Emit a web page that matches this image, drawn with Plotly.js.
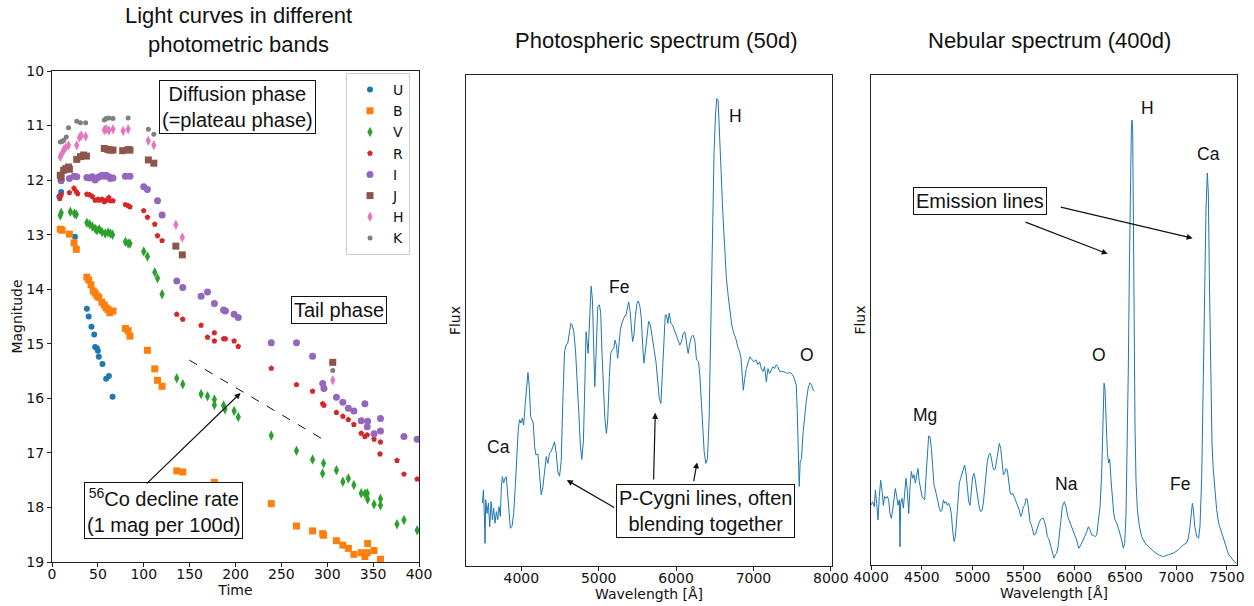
<!DOCTYPE html>
<html>
<head>
<meta charset="utf-8">
<script src="https://cdn.plot.ly/plotly-3.0.1.min.js"></script>
<style>html,body{margin:0;padding:0;background:#fff;}#chart{width:1254px;height:606px;}</style>
</head>
<body>
<div id="chart"></div>
<script>
// ---------- Light curves (time in days, magnitude) ----------
const bandNames = ['U','B','V','R','I','J','H','K'];
const U_t = [8,10,25,38,40,43,46,47,49,50,51,55,59,62,66];
const U_m = [12.3,12.22,13.04,14.36,14.5,14.69,14.83,15.06,15.08,15.13,15.24,15.37,15.64,15.59,15.97];
const B_t = [9,11,19,24,26.5,38,40,42.5,45,47,49,51,54.5,57,59,61,63,66.5,80,83,85,104,112,115,120,136,142.5,177,239,266.5,284,295,296,310,317,323,329,337,341,343.6,344,351,358];
const B_m = [12.9,12.92,12.99,13.15,13.27,13.78,13.83,13.92,14.03,14.07,14.12,14.15,14.24,14.29,14.34,14.37,14.43,14.4,14.72,14.76,14.86,15.12,15.46,15.67,15.78,17.33,17.35,17.54,17.93,18.34,18.43,18.48,18.51,18.61,18.69,18.75,18.86,18.83,18.9,18.83,18.66,18.79,18.95];
const V_t = [9,10,20,24.4,26.5,38,41,44,47,49,51.6,54.5,58,61,63.6,66,80,83,85,100,104,112,115,120,136,142.5,162.5,169.5,177,177,187,188.5,198.5,203,239,266.5,284,296,295,310,317,323,329,337,341,343.6,344,351,358,358,376,383.6,398];
const V_m = [12.65,12.6,12.58,12.61,12.63,12.78,12.81,12.85,12.89,12.92,12.9,12.95,12.98,12.96,12.98,13.0,13.13,13.16,13.16,13.31,13.4,13.69,13.8,14.09,15.63,15.74,15.92,15.96,16.02,16.12,16.13,16.2,16.23,16.34,16.68,16.96,17.12,17.19,17.38,17.32,17.53,17.47,17.59,17.74,17.75,17.74,17.85,17.94,17.84,17.96,18.31,18.23,18.42];
const R_t = [8.4,10,19,24,26.5,28,38,41,44,47,50,51.6,54.5,57,59,62,63.6,66.5,80,83,85,100,104,112,115,120,136,142.5,162.5,169.5,177,177,187,189,198.5,203,239,266.5,284,295,296.4,310,317,323,329,337,341,343.6,351,358,357.5,376,383.6,398];
const R_m = [12.34,12.27,12.23,12.15,12.21,12.25,12.26,12.27,12.3,12.37,12.35,12.37,12.35,12.4,12.37,12.32,12.38,12.38,12.45,12.47,12.49,12.56,12.68,12.81,13.02,13.11,14.46,14.55,14.66,14.88,14.8,14.95,14.91,14.91,14.95,15.05,15.45,15.75,15.87,16.1,16.13,16.26,16.33,16.39,16.48,16.64,16.7,16.67,16.75,16.8,17.02,17.14,17.39,17.48];
const I_t = [10,19,24,27,38,41,44,47,50,51.6,54.5,57,59,62,63.6,66.5,80,85,100,104,115,120,136,142.5,162.5,169.5,177,187,189,198.5,203,239,266.5,284,295,296.4,310,317,323,329,337,341,343.6,344,351,358,358,383.6,398];
const I_m = [12.01,11.97,11.93,11.94,11.95,11.96,11.94,12.0,11.95,11.94,11.91,11.93,11.91,11.94,11.97,11.96,11.93,11.93,12.12,12.17,12.38,12.64,13.85,13.97,14.13,14.05,14.26,14.38,14.4,14.46,14.52,14.98,14.98,15.23,15.73,15.82,15.98,16.07,16.18,16.23,16.41,16.1,16.52,16.42,16.65,16.37,16.6,16.7,16.75];
const J_t = [9,10,12.7,15,18,19,27,31,34.5,37.5,57,61,63.6,66.5,77,83,85,105,111,135,142,306];
const J_m = [11.91,11.95,11.82,11.79,11.76,11.8,11.62,11.57,11.54,11.56,11.42,11.44,11.45,11.45,11.46,11.44,11.45,11.63,11.69,13.21,13.37,15.34];
const H_t = [9,11,12.7,15,18,27,30,32,36.7,57,59,62,66.5,77.5,83,105,111,135,142,306];
const H_m = [11.57,11.51,11.45,11.4,11.36,11.36,11.22,11.18,11.2,11.08,11.07,11.09,11.07,11.1,11.07,11.28,11.36,12.82,13.05,15.67];
const K_t = [9,11,12.7,15.6,18,27,31,36.7,57,59,62,66.5,83,105,111,306];
const K_m = [11.3,11.29,11.27,11.21,11.04,10.92,10.95,10.95,10.9,10.87,10.86,10.87,10.86,11.07,11.16,15.49];

// ---------- Photospheric spectrum (50d): wavelength [A], relative flux ----------
const photo_wl = [3497,3510,3523,3531,3540,3557,3574,3592,3609,3626,3643,3660,3678,3695,3712,3729,3742,3755,3772,3789,3806,3819,3836,3858,3879,3901,3922,3944,3961,3978,3995,4013,4030,4051,4068,4086,4103,4120,4137,4154,4172,4189,4215,4236,4257,4279,4300,4322,4343,4365,4386,4408,4429,4451,4472,4494,4515,4537,4558,4580,4601,4623,4640,4657,4678,4700,4721,4743,4764,4782,4803,4820,4837,4863,4880,4902,4919,4936,4949,4966,4988,5009,5026,5043,5061,5078,5099,5116,5138,5155,5172,5194,5211,5228,5245,5262,5280,5297,5318,5336,5353,5370,5387,5404,5421,5438,5456,5473,5495,5512,5533,5551,5568,5585,5602,5624,5645,5667,5688,5714,5740,5761,5783,5804,5821,5843,5860,5877,5894,5911,5933,5954,5976,5997,6023,6049,6070,6092,6113,6135,6156,6178,6199,6221,6242,6264,6290,6307,6324,6341,6363,6384,6406,6427,6449,6470,6491,6509,6526,6543,6560,6582,6603,6625,6650,6672,6698,6719,6745,6771,6796,6822,6839,6857,6869,6887,6908,6934,6955,6981,7007,7033,7059,7080,7101,7123,7144,7166,7187,7209,7230,7252,7273,7295,7316,7338,7363,7389,7415,7441,7467,7492,7518,7540,7553,7566,7578,7591,7604,7621,7639,7660,7682,7707,7729,7750,7772,7789];
const photo_fx = [12.8,15.5,10.1,4.6,13.5,10.7,12.8,8.0,13.1,9.4,11.8,8.7,11.1,9.4,12.1,10.1,16.2,18.2,16.9,17.9,18.2,15.5,12.8,7.7,8.0,10.7,16.2,23.6,28.0,29.8,29.1,30.1,28.7,33.1,36.5,39.4,36.5,30.4,29.8,29.1,24.3,22.6,22.8,18.9,14.5,16.2,19.2,22.3,20.9,23.0,23.3,24.3,25.3,23.0,19.2,18.3,21.3,33.8,43.7,45.0,45.4,47.7,49.4,49.1,47.7,44.0,38.6,31.1,24.3,21.7,25.7,36.5,47.7,43.3,50.1,57.0,54.2,43.3,36.5,43.3,52.8,53.2,51.5,43.3,36.5,30.4,27.0,29.7,38.6,43.3,44.0,44.3,46.0,45.0,42.3,46.0,48.1,49.4,50.4,50.9,51.1,52.8,53.8,52.1,49.4,45.7,47.1,50.8,53.5,54.0,52.8,50.4,45.0,41.3,43.6,47.4,49.8,49.1,46.4,44.3,41.6,38.2,34.1,33.1,38.2,47.0,51.1,51.1,49.4,51.5,49.4,49.1,48.1,47.4,46.4,45.0,45.7,47.4,47.7,45.7,43.3,45.4,46.7,47.0,46.0,42.0,41.6,38.9,33.5,28.0,23.3,20.9,21.9,30.1,50.4,70.8,84.4,91.9,95.2,94.9,89.8,80.3,72.2,65.4,58.6,55.2,51.8,49.1,47.4,46.4,44.7,43.6,42.3,38.2,35.8,38.2,40.2,41.6,42.6,42.0,41.6,42.0,41.0,41.6,40.2,39.6,40.6,37.5,40.2,39.2,39.9,40.6,40.2,41.0,40.6,39.6,39.7,39.6,39.4,39.2,39.4,39.2,38.6,37.5,36.9,31.4,23.3,16.2,21.2,21.9,26.7,30.7,33.5,36.2,37.3,36.9,35.8,35.6];

// ---------- Nebular spectrum (400d) ----------
const neb_wl = [4000,4016,4033,4043,4056,4069,4082,4095,4108,4121,4134,4148,4161,4174,4187,4200,4213,4226,4239,4253,4266,4279,4285,4292,4305,4318,4331,4344,4357,4371,4384,4397,4410,4423,4436,4449,4462,4475,4489,4502,4515,4528,4541,4554,4567,4580,4594,4607,4620,4633,4646,4659,4672,4685,4698,4712,4725,4738,4751,4764,4777,4790,4803,4817,4830,4843,4856,4869,4882,4895,4908,4921,4935,4948,4961,4974,4987,5000,5013,5026,5039,5053,5066,5079,5092,5105,5118,5131,5144,5158,5171,5184,5197,5210,5223,5236,5249,5262,5276,5289,5302,5315,5328,5341,5354,5367,5380,5394,5407,5420,5433,5446,5459,5472,5485,5499,5512,5525,5538,5551,5564,5577,5590,5603,5617,5630,5643,5656,5669,5682,5695,5708,5722,5735,5748,5761,5774,5787,5800,5813,5826,5840,5853,5866,5882,5902,5918,5935,5958,5981,6004,6023,6043,6063,6082,6102,6122,6138,6154,6171,6187,6204,6220,6236,6253,6269,6282,6292,6302,6312,6325,6338,6348,6361,6374,6387,6400,6417,6433,6449,6466,6482,6495,6508,6521,6531,6541,6551,6561,6567,6574,6580,6587,6597,6607,6620,6640,6662,6695,6728,6777,6826,6875,6925,6974,7023,7072,7105,7121,7138,7151,7161,7171,7184,7204,7223,7236,7253,7269,7282,7295,7308,7318,7328,7341,7354,7367,7384,7400,7420,7439,7459,7479,7499,7518,7538,7558,7577,7590];
const neb_fx = [12.2,12.9,11.9,15.3,12.6,9.2,14.0,17.3,15.3,12.2,14.0,13.6,14.0,13.3,10.5,9.5,11.2,14.0,15.6,14.0,12.2,13.3,3.7,12.6,13.6,11.6,14.6,17.7,15.3,10.5,16.0,19.1,17.7,18.4,16.7,18.7,19.7,17.0,15.3,14.0,13.6,13.3,18.0,23.5,26.3,26.2,23.8,20.1,16.3,15.3,14.3,12.9,11.6,10.9,11.2,13.3,12.6,12.9,12.2,12.6,11.9,10.5,7.1,4.8,5.8,9.9,14.0,16.7,17.7,18.7,19.4,20.4,18.7,16.0,12.9,12.2,15.3,18.0,18.7,17.4,15.3,13.3,11.6,10.9,11.2,12.6,15.3,18.7,21.1,22.4,22.8,21.8,20.1,19.4,19.7,21.4,22.8,24.8,23.8,20.1,18.4,18.7,19.7,19.4,17.4,15.0,14.3,14.6,14.0,13.3,12.2,11.9,11.2,9.9,10.5,11.9,12.2,13.6,13.3,11.2,8.8,8.2,7.1,6.1,6.3,7.1,8.2,8.8,9.3,9.5,9.5,8.8,7.5,5.8,5.4,4.4,3.1,2.1,1.4,2.1,2.4,3.7,6.5,9.9,11.9,12.9,11.9,9.9,8.5,7.2,6.1,5.1,3.4,4.1,4.8,5.8,6.8,7.8,7.2,6.1,6.1,5.8,6.1,8.5,11.9,18.7,30.3,37.1,35.7,28.2,22.8,20.8,21.6,17.4,14.0,10.6,9.2,8.5,7.5,6.5,5.1,3.4,4.4,9.9,24.0,40.0,60.0,78.0,88.8,90.8,88.8,72.5,50.0,28.0,17.0,11.3,7.9,5.8,4.5,3.8,2.8,2.1,1.7,2.1,2.4,3.1,4.1,4.5,5.5,7.9,10.6,12.6,11.3,7.9,5.8,5.5,7.9,18.1,38.5,58.9,72.5,80.0,75.9,58.9,38.5,24.9,19.4,14.7,11.3,8.5,7.2,5.8,4.5,3.1,2.1,1.7,1.0,0.7,0.3];

const FONT = 'Liberation Sans, Arial, Helvetica, sans-serif';
const AXFONT = 'DejaVu Sans, sans-serif';
const colors = ['#1f77b4','#ff7f0e','#2ca02c','#d62728','#9467bd','#8c564b','#e377c2','#7f7f7f'];
const symbols = ['circle','square','diamond-tall','pentagon','circle','square','diamond-tall','circle'];
const sizes = [6,7,7.5,6,7,7,7.5,5];
const bandT = [U_t,B_t,V_t,R_t,I_t,J_t,H_t,K_t];
const bandM = [U_m,B_m,V_m,R_m,I_m,J_m,H_m,K_m];

const traces = bandNames.map((n,i)=>({
  type:'scatter', mode:'markers', name:n, x:bandT[i], y:bandM[i],
  xaxis:'x', yaxis:'y',
  marker:{color:colors[i], symbol:symbols[i], size:sizes[i], line:{width:0}}
}));
traces.push({type:'scatter',mode:'lines',x:photo_wl,y:photo_fx,xaxis:'x2',yaxis:'y2',
  line:{color:'#1f77b4',width:1},showlegend:false});
traces.push({type:'scatter',mode:'lines',x:neb_wl,y:neb_fx,xaxis:'x3',yaxis:'y3',
  line:{color:'#1f77b4',width:1},showlegend:false});

const W=1254, Hh=606;
const axBase = {showline:true, mirror:true, linecolor:'#222', linewidth:1, ticks:'outside',
  ticklen:4, tickcolor:'#222', showgrid:false, zeroline:false, ticklabelstandoff:-5,
  tickfont:{size:14, family:AXFONT, color:'#111'}};
const axTitleFont = {size:14, family:AXFONT, color:'#111'};

function lbl(text,x,y,xr,yr){return {text:text,x:x,y:y,xref:xr,yref:yr,showarrow:false,
  xanchor:'center',yanchor:'middle',font:{size:17.5,family:FONT,color:'#111'}};}
function box(text,x,y,xr,yr){return {text:text,x:x,y:y,xref:xr,yref:yr,showarrow:false,
  xanchor:'center',yanchor:'middle',
  font:{size:20,family:FONT,color:'#111'},bordercolor:'#111',borderwidth:1,borderpad:2,bgcolor:'#fff'};}
function arrow(x0,y0,x1,y1,xr,yr){return {text:'',x:x1,y:y1,ax:x0,ay:y0,xref:xr,yref:yr,axref:xr,ayref:yr,
  showarrow:true,arrowhead:2,arrowsize:1,arrowwidth:1.2,arrowcolor:'#111',standoff:0,startstandoff:0};}
function title(text,px,py){return {text:text,x:px/W,y:1-py/Hh,xref:'paper',yref:'paper',showarrow:false,
  xanchor:'center',yanchor:'middle',font:{size:22,family:FONT,color:'#111'}};}

const annotations = [
  title('Light curves in different<br>photometric bands',238,30),
  title('Photospheric spectrum (50d)',656,40),
  title('Nebular spectrum (400d)',1049,40),
  box('Diffusion phase<br>(=plateau phase)',202.7,10.66,'x','y'),
  box('Tail phase',313,14.38,'x','y'),
  box('<sup>56</sup>Co decline rate<br>(1 mag per 100d)',121.3,18.06,'x','y'),
  arrow(101.6,17.59,205.5,15.9,'x','y'),
  lbl('H',6762,91.6,'x2','y2'), lbl('Fe',5267,56.8,'x2','y2'), lbl('Ca',3707,24.2,'x2','y2'), lbl('O',7690,43.0,'x2','y2'),
  arrow(5220,11.75,4588,17.5,'x2','y2'),
  arrow(5709,17.3,5731,31.2,'x2','y2'),
  arrow(6224,17.0,6272,21.1,'x2','y2'),
  box('P-Cygni lines, often<br>blending together',6377,11.2,'x2','y2'),
  lbl('H',6715,93.3,'x3','y3'), lbl('Ca',7315,83.9,'x3','y3'), lbl('Mg',4531,30.6,'x3','y3'),
  lbl('Na',5918,16.5,'x3','y3'), lbl('O',6243,42.9,'x3','y3'), lbl('Fe',7039,16.5,'x3','y3'),
  arrow(5505,70.1,6328,63.5,'x3','y3'),
  arrow(5852,73.1,7164,66.7,'x3','y3'),
  box('Emission lines',5072,74.3,'x3','y3')
];

const layout = {
  width:W, height:Hh, margin:{l:0,r:0,t:0,b:0}, paper_bgcolor:'#fff', plot_bgcolor:'#fff',
  font:{family:FONT,color:'#111'},
  showlegend:true,
  legend:{x:346/W, y:1-73/Hh, xanchor:'left', yanchor:'top', bgcolor:'#fff', bordercolor:'#ccc', borderwidth:1,
    itemwidth:36, font:{size:14,family:AXFONT,color:'#111'}},
  xaxis:Object.assign({},axBase,{domain:[52/W,419/W],range:[0,400],tick0:0,dtick:50,anchor:'y',
    title:{text:'Time',font:axTitleFont,standoff:0}}),
  yaxis:Object.assign({},axBase,{domain:[1-562/Hh,1-71/Hh],range:[19,10],tick0:10,dtick:1,anchor:'x',
    ticklabelstandoff:0, title:{text:'Magnitude',font:axTitleFont,standoff:0}}),
  xaxis2:Object.assign({},axBase,{domain:[466/W,832/W],range:[3285,8015],tick0:4000,dtick:1000,anchor:'y2',
    title:{text:'Wavelength [Å]',font:axTitleFont,standoff:0}}),
  yaxis2:Object.assign({},axBase,{domain:[1-566/Hh,1-75/Hh],range:[0,100],anchor:'x2',ticks:'',showticklabels:false,
    ticklabelstandoff:0, title:{text:'Flux',font:axTitleFont,standoff:1}}),
  xaxis3:Object.assign({},axBase,{domain:[871/W,1237/W],range:[4000,7600],tick0:4000,dtick:500,anchor:'y3',
    title:{text:'Wavelength [Å]',font:axTitleFont,standoff:0}}),
  yaxis3:Object.assign({},axBase,{domain:[1-565/Hh,1-75/Hh],range:[0,100],anchor:'x3',ticks:'',showticklabels:false,
    ticklabelstandoff:0, title:{text:'Flux',font:axTitleFont,standoff:1}}),
  shapes:[{type:'line',xref:'x',yref:'y',x0:149.7,y0:15.3,x1:300.2,y1:16.8,line:{color:'#111',width:1,dash:'dash'}}],
  annotations:annotations
};

Plotly.newPlot('chart', traces, layout, {displayModeBar:false, staticPlot:true});
</script>
</body>
</html>
